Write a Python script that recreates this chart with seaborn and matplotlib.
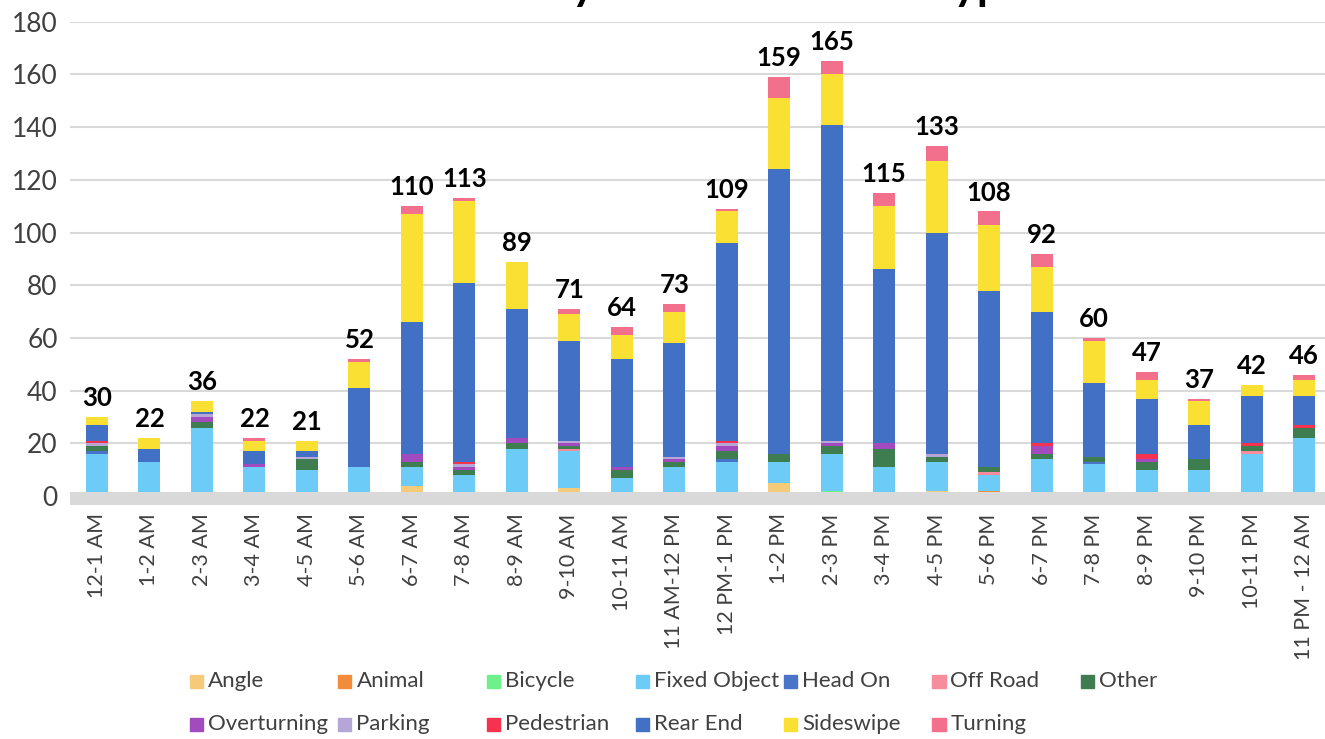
import numpy as np
import pandas as pd
import matplotlib
matplotlib.use("Agg")
import matplotlib.pyplot as plt
from matplotlib.patches import Rectangle
import seaborn as sns

# hour bins on the x axis
hours = ["12-1 AM", "1-2 AM", "2-3 AM", "3-4 AM", "4-5 AM", "5-6 AM", "6-7 AM",
         "7-8 AM", "8-9 AM", "9-10 AM", "10-11 AM", "11 AM-12 PM", "12 PM-1 PM",
         "1-2 PM", "2-3 PM", "3-4 PM", "4-5 PM", "5-6 PM", "6-7 PM", "7-8 PM",
         "8-9 PM", "9-10 PM", "10-11 PM", "11 PM - 12 AM"]

# crash counts per type
angle       = [0, 0, 0, 0, 0, 0, 4, 0, 0, 3, 1, 0, 0, 5, 0, 0, 2, 0, 0, 0, 0, 0, 0, 0]
animal      = [0, 0, 0, 0, 0, 0, 0, 0, 0, 0, 0, 0, 0, 0, 0, 0, 0, 2, 0, 0, 0, 0, 0, 1]
bicycle     = [0, 0, 0, 0, 0, 0, 0, 0, 0, 0, 0, 0, 0, 0, 2, 0, 0, 0, 1, 1, 0, 0, 0, 0]
fixed_obj   = [16, 13, 26, 11, 10, 11, 7, 8, 18, 14, 6, 11, 13, 8, 14, 11, 11, 6, 13, 11, 10, 10, 16, 21]
head_on     = [1, 0, 0, 0, 0, 0, 0, 0, 0, 0, 0, 0, 1, 0, 0, 0, 0, 0, 0, 1, 0, 0, 0, 0]
off_road    = [0, 0, 0, 0, 0, 0, 0, 0, 0, 1, 0, 0, 0, 0, 0, 0, 0, 1, 0, 0, 0, 0, 1, 0]
other       = [2, 0, 2, 0, 4, 0, 2, 2, 2, 1, 3, 2, 3, 3, 3, 7, 2, 2, 2, 2, 3, 4, 2, 4]
overturning = [0, 0, 2, 1, 0, 0, 3, 1, 2, 1, 1, 1, 2, 0, 1, 2, 0, 0, 3, 0, 1, 0, 0, 0]
parking     = [1, 0, 1, 0, 1, 0, 0, 1, 0, 1, 0, 1, 1, 0, 1, 0, 1, 0, 0, 0, 0, 0, 0, 0]
pedestrian  = [1, 0, 0, 0, 0, 0, 0, 1, 0, 0, 0, 0, 1, 0, 0, 0, 0, 0, 1, 0, 2, 0, 1, 1]
rear_end    = [6, 5, 1, 5, 2, 30, 50, 68, 49, 38, 41, 43, 75, 108, 120, 66, 84, 67, 50, 28, 21, 13, 18, 11]
sideswipe   = [3, 4, 4, 4, 4, 10, 41, 31, 18, 10, 9, 12, 12, 27, 19, 24, 27, 25, 17, 16, 7, 9, 4, 6]
turning     = [0, 0, 0, 1, 0, 1, 3, 1, 0, 2, 3, 3, 1, 8, 5, 5, 6, 5, 5, 1, 3, 1, 0, 2]

crash_types = ["Angle", "Animal", "Bicycle", "Fixed Object", "Head On", "Off Road", "Other",
               "Overturning", "Parking", "Pedestrian", "Rear End", "Sideswipe", "Turning"]
colors = ["#F5CB7A", "#F08C3A", "#6EF08A", "#6CCBF7", "#4A74C9", "#F78C9C", "#3E7D4F",
          "#A24BBE", "#B6A6D8", "#F5334F", "#4270C4", "#FAE033", "#F2708C"]

df = pd.DataFrame(dict(zip(crash_types, [angle, animal, bicycle, fixed_obj, head_on, off_road,
                                         other, overturning, parking, pedestrian, rear_end,
                                         sideswipe, turning])), index=hours)
totals = df.sum(axis=1)

sns.set_theme(style="white")
plt.rcParams['font.family'] = ['Lato', 'DejaVu Sans']

fig = plt.figure(figsize=(13.25, 7.39), dpi=100)
ax = fig.add_axes([0.053, 0.3166, 0.947, 0.654])

x = np.arange(len(hours))
bottom = np.zeros(len(hours))
for name, col in zip(crash_types, colors):
    bars = ax.bar(x, df[name].values, bottom=bottom, width=0.42, color=col, label=name,
                  edgecolor="none", zorder=2)
    bottom += df[name].values

ax.bar_label(bars, labels=[str(t) for t in totals], padding=5, fontsize=18.5,
             fontweight="bold", color="black")

# thick gray baseline like the original
ax.axhspan(-3.4, 1.6, color="#D9D9D9", zorder=3, lw=0)

ax.set_xlim(-0.51, 23.4)
ax.set_ylim(-3.4, 180)
ax.set_yticks(range(0, 181, 20))
ax.yaxis.grid(True, color="#D9D9D9", lw=1.5, zorder=0)
ax.set_axisbelow(True)
ax.set_xticks(x)
ax.set_xticklabels(hours, rotation=90, va="top", ha="center")
ax.tick_params(axis="x", length=0, pad=6, labelsize=15.5, labelcolor="#404040")
ax.tick_params(axis="y", length=0, pad=9, labelsize=19, labelcolor="#404040")
sns.despine(ax=ax, left=True, bottom=True)

# title (mostly cut off at the top edge in the original)
fig.text(0.53, 1.0, "Crashes by Hour and Crash Type", ha="center", va="baseline",
         fontsize=32, fontweight="bold", color="black")

# legend laid out on a fixed grid, two rows
W, H = 1325, 739
for i, (name, col) in enumerate(zip(crash_types, colors)):
    row, c = divmod(i, 7)
    lx = 190 + 148.5 * c
    ly = 681 + 43 * row
    fig.patches.append(Rectangle((lx / W, 1 - (ly + 6.5) / H), 13 / W, 13 / H,
                                 transform=fig.transFigure, color=col, figure=fig))
    fig.text((lx + 18) / W, 1 - ly / H, name, ha="left", va="center",
             fontsize=16, color="#404040")

fig.savefig("out.png", dpi=100)
